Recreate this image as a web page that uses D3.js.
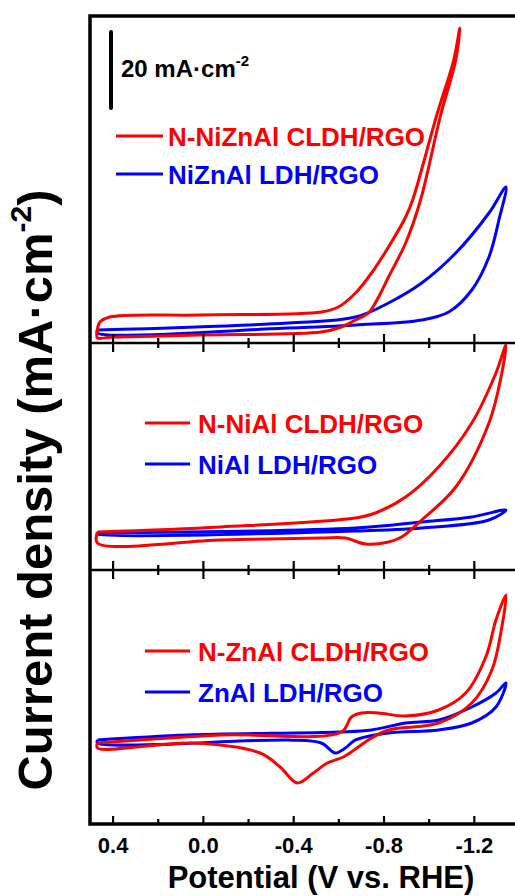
<!DOCTYPE html>
<html>
<head>
<meta charset="utf-8">
<script src="https://d3js.org/d3.v7.min.js"></script>
<style>
  body { margin: 0; background: #fff; }
  text { font-family: Arial, "Liberation Sans", sans-serif; font-weight: bold; }
</style>
</head>
<body>
<svg id="chart" width="515" height="896"></svg>
<script>

// potential axis (V vs. RHE), reversed
var xMajor = [0.4, 0.0, -0.4, -0.8, -1.2];
var xMinor = [0.2, -0.2, -0.6, -1.0];
var xLabels = ['0.4', '0.0', '-0.4', '-0.8', '-1.2'];

// CV loops, [potential V, current density mA/cm2]
var niznalRed = [[0.458, 2.0], [0.413, 3.34], [0.013, 3.87], [-0.524, 4.66], [-0.6, 5.97], [-0.676, 9.66],
  [-0.747, 14.92], [-0.822, 21.76], [-0.898, 29.66], [-0.929, 34.13], [-1.036, 56.5], [-1.111, 70.97],
  [-1.138, 79.39], [-1.12, 70.97], [-1.053, 56.5], [-0.964, 34.13], [-0.898, 22.82], [-0.822, 13.87],
  [-0.778, 8.61], [-0.733, 4.39], [-0.676, 2.55], [-0.613, 0.71], [-0.524, -0.61], [0.013, -1.39],
  [0.413, -2.0], [0.467, -2.18], [0.467, 0.2], [0.458, 2.0]];
var niznalBlue = [[0.467, -0.08], [-0.378, 1.76], [-0.676, 3.34], [-0.822, 7.03], [-0.969, 12.29],
  [-1.12, 20.18], [-1.267, 30.71], [-1.342, 37.55], [-1.311, 28.87], [-1.267, 19.13], [-1.191, 10.45],
  [-1.089, 4.66], [-0.969, 2.55], [-0.676, 1.24], [-0.378, 0.45], [0.467, -0.87], [0.467, -0.08]];

var nialRed = [[0.467, 0], [-0.08, 1.32], [-0.676, 3.68], [-0.764, 5], [-0.898, 9.21], [-1.044, 17.11],
  [-1.191, 28.68], [-1.298, 41.84], [-1.342, 49.21], [-1.324, 41.84], [-1.267, 28.68], [-1.12, 11.84],
  [-0.969, 3.16], [-0.88, -1.32], [-0.822, -2.63], [-0.72, -3.16], [-0.631, -1.58], [-0.524, -1.58],
  [-0.08, -2.11], [0.467, -2.89], [0.467, 0]];
var nialBlue = [[0.467, -0.26], [-0.676, 1.05], [-0.969, 2.63], [-1.191, 3.95], [-1.342, 5.79],
  [-1.267, 3.16], [-0.969, 1.05], [-0.676, 0.26], [0.467, -0.53], [0.467, -0.26]];

var znalRed = [[0.467, 1.32], [-0.08, 3.42], [-0.613, 4.21], [-0.658, 8.16], [-0.702, 9.21], [-0.778, 9.21],
  [-0.898, 8.42], [-1.044, 10], [-1.164, 14.47], [-1.253, 23.95], [-1.298, 33.68], [-1.342, 40.26],
  [-1.324, 31.84], [-1.28, 20.53], [-1.191, 11.84], [-1.044, 6.58], [-0.822, 4.74], [-0.747, 2.63],
  [-0.676, -0.26], [-0.622, -2.37], [-0.551, -3.95], [-0.489, -6.58], [-0.418, -9.21], [-0.342, -5],
  [-0.253, -1.32], [0.044, 1.32], [0.467, 0], [0.467, 1.32]];
var znalBlue = [[0.467, 2.11], [0.067, 3.42], [-0.6, 4.21], [-0.747, 4.74], [-0.898, 6.58], [-1.044, 7.37],
  [-1.191, 10.79], [-1.298, 14.47], [-1.342, 17.11], [-1.298, 10.79], [-1.191, 6.58], [-1.044, 4.74],
  [-0.822, 3.95], [-0.676, 2.11], [-0.631, 0], [-0.587, -1.32], [-0.524, 1.32], [-0.378, 2.11],
  [0.467, 1.32], [0.467, 2.11]];

var redNames = ['N-NiZnAl CLDH/RGO', 'N-NiAl CLDH/RGO', 'N-ZnAl CLDH/RGO'];
var blueNames = ['NiZnAl LDH/RGO', 'NiAl LDH/RGO', 'ZnAl LDH/RGO'];
var scaleBarValue = 20; // mA/cm2

var RED = '#ff0000', BLUE = '#0000ff';
var plotLeft = 90, plotRight = 521, plotTop = 16, plotBottom = 824;

var svg = d3.select('#chart');
var x = d3.scaleLinear().domain([0.5, -1.4]).range([plotLeft, 519]);

// each panel: pixel band + current-density window (same mA/cm2 per pixel everywhere)
var panels = [
  { bottom: 343, top: plotTop, lo: -3.5, red: niznalRed, blue: niznalBlue, legX: 116, legY: 136 },
  { bottom: 570, top: 343, lo: -10, red: nialRed, blue: nialBlue, legX: 145, legY: 423 },
  { bottom: plotBottom, top: 570, lo: -20, red: znalRed, blue: znalBlue, legX: 145, legY: 651 }
];
var pxPerUnit = 3.8;

panels.forEach(function (p, i) {
  p.y = d3.scaleLinear()
    .domain([p.lo, p.lo + (p.bottom - p.top) / pxPerUnit])
    .range([p.bottom, p.top]);
  drawPanel(p, i);
});

function drawPanel(p, i) {
  var line = d3.line()
    .x(function (d) { return x(d[0]); })
    .y(function (d) { return p.y(d[1]); })
    .curve(d3.curveCatmullRom.alpha(0.5));

  svg.append('path').datum(p.blue)
    .attr('d', line).attr('fill', 'none')
    .attr('stroke', BLUE).attr('stroke-width', 3).attr('stroke-linejoin', 'round');
  svg.append('path').datum(p.red)
    .attr('d', line).attr('fill', 'none')
    .attr('stroke', RED).attr('stroke-width', 3).attr('stroke-linejoin', 'round');

  // legend
  var lineLen = i === 0 ? 47 : 45;
  var textX = p.legX + lineLen + (i === 0 ? 5 : 8);
  [[RED, redNames[i], p.legY], [BLUE, blueNames[i], p.legY + (i === 0 ? 38 : 41)]].forEach(function (e) {
    svg.append('line')
      .attr('x1', p.legX).attr('x2', p.legX + lineLen)
      .attr('y1', e[2]).attr('y2', e[2])
      .attr('stroke', e[0]).attr('stroke-width', 3);
    svg.append('text')
      .attr('x', textX).attr('y', e[2] + 10)
      .attr('fill', e[0]).attr('font-size', 26)
      .text(e[1]);
  });
}

// scale bar in the top panel
var p0 = panels[0];
var barTop = p0.y.domain()[1] - 4.2;
svg.append('line')
  .attr('x1', 111).attr('x2', 111)
  .attr('y1', p0.y(barTop)).attr('y2', p0.y(barTop - scaleBarValue))
  .attr('stroke', '#000').attr('stroke-width', 4).attr('stroke-linecap', 'round');
var sb = svg.append('text').attr('x', 121).attr('y', 77).attr('font-size', 24);
sb.append('tspan').text(scaleBarValue + ' mA\u00b7cm');
sb.append('tspan').attr('dy', -11).attr('font-size', 15).text('-2');

// ticks on the panel separators (both sides) and the bottom axis (inside)
function tickRow(y, up, down, values) {
  if (up > 0) {
    svg.append('g').attr('transform', 'translate(0,' + y + ')')
      .call(d3.axisTop(x).tickValues(values).tickSize(up).tickSizeOuter(0).tickFormat(''))
      .call(styleAxis);
  }
  if (down > 0) {
    svg.append('g').attr('transform', 'translate(0,' + y + ')')
      .call(d3.axisBottom(x).tickValues(values).tickSize(down).tickSizeOuter(0).tickFormat(''))
      .call(styleAxis);
  }
}
function styleAxis(g) {
  g.select('.domain').remove();
  g.selectAll('.tick line').attr('stroke', '#000').attr('stroke-width', 2.2);
}

[343, 570].forEach(function (y) {
  tickRow(y, 9, 9, xMajor);
  tickRow(y, 5, 5, xMinor);
});
tickRow(plotBottom, 8, 0, xMajor);
tickRow(plotBottom, 5, 0, xMinor);

// bottom tick labels
var bottomAxis = svg.append('g').attr('transform', 'translate(0,' + plotBottom + ')')
  .call(d3.axisBottom(x).tickValues(xMajor).tickSize(0).tickPadding(13)
    .tickFormat(function (d, i) { return xLabels[i]; }));
bottomAxis.select('.domain').remove();
bottomAxis.selectAll('text')
  .attr('fill', '#000').attr('font-size', 22)
  .attr('font-family', 'Arial, "Liberation Sans", sans-serif').attr('font-weight', 'bold');

// frame and separators
svg.append('path')
  .attr('d', 'M' + plotRight + ',' + plotTop + 'H' + plotLeft + 'V' + plotBottom + 'H' + plotRight)
  .attr('fill', 'none').attr('stroke', '#000').attr('stroke-width', 3.5);
[343, 570].forEach(function (y) {
  svg.append('line').attr('x1', plotLeft).attr('x2', plotRight)
    .attr('y1', y).attr('y2', y)
    .attr('stroke', '#000').attr('stroke-width', 2.5);
});

// axis titles
svg.append('text')
  .attr('x', 321).attr('y', 888)
  .attr('text-anchor', 'middle').attr('font-size', 31)
  .text('Potential (V vs. RHE)');

var yt = svg.append('text')
  .attr('transform', 'translate(52,490) rotate(-90)')
  .attr('text-anchor', 'middle').attr('font-size', 49);
yt.append('tspan').text('Current density (mA\u00b7cm');
yt.append('tspan').attr('dy', -21).attr('font-size', 30).text('-2');
yt.append('tspan').attr('dy', 21).text(')');

</script>
</body>
</html>
